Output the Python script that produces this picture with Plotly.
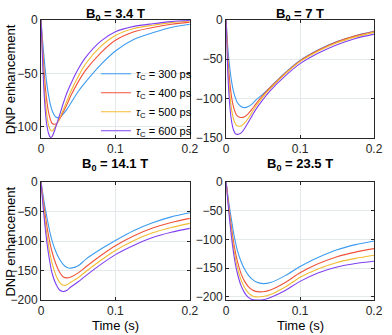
import plotly.graph_objects as go
from plotly.subplots import make_subplots

# time axis (s)
t_s = [0, 0.0025, 0.005, 0.0075, 0.01, 0.0125, 0.015, 0.02, 0.025, 0.03,
       0.035, 0.04, 0.05, 0.06, 0.08, 0.1, 0.125, 0.15, 0.175, 0.2]

tau_labels = ["300 ps", "400 ps", "500 ps", "600 ps"]
b0_labels = ["3.4 T", "7 T", "14.1 T", "23.5 T"]

# B0 = 3.4 T
e34_300 = [0, -22, -42, -58, -70, -79, -85, -91, -91.5, -88, -83.5, -78, -67, -58, -42, -29, -18, -12, -7, -4]
e34_400 = [0, -30, -56, -74, -86, -93, -97, -97.5, -93, -86, -79, -71, -58, -47, -31, -19, -11, -7, -4, -2]
e34_500 = [0, -38, -68, -87, -98, -103, -104, -99, -92, -84, -75.5, -67, -53, -41, -25, -14.5, -8, -5, -2.5, -1]
e34_600 = [0, -45, -78, -97, -106, -110, -109, -100, -89, -78, -68, -60, -46, -35, -20, -11, -6, -3.5, -1.5, -0.5]

# B0 = 7 T
e7_300 = [0, -38, -62, -79, -91, -99, -105, -110, -111.5, -110, -107, -102, -94, -85, -67, -51.5, -38, -27.5, -20, -14.5]
e7_400 = [0, -50, -80, -99, -111, -118, -122, -124, -123, -119, -113.5, -107, -95.5, -85.5, -67.5, -52, -38.3, -27.8, -20.2, -14.7]
e7_500 = [0, -60, -95, -115, -126, -132, -134.5, -135, -131, -125, -117.5, -110, -97.5, -87, -68.5, -53, -39.5, -29, -21.5, -15.7]
e7_600 = [0, -72, -110, -130, -140, -144.5, -145.5, -144, -138, -130, -122, -114, -101, -89.5, -71, -55.5, -42, -31.5, -23.5, -17.9]

# B0 = 14.1 T
e141_300 = [0, -20, -40, -57, -73, -88, -100, -118, -131, -140, -145, -146, -142, -131, -114, -99, -82, -69, -59, -52]
e141_400 = [0, -26, -50, -71, -90, -106, -119, -139, -153, -161, -162.5, -161, -154, -144, -125, -108, -91, -78, -68.5, -61.5]
e141_500 = [0, -31, -60, -85, -106, -124, -138, -158, -170, -175, -174, -170, -162, -152, -133, -116, -99, -86, -77, -70]
e141_600 = [0, -37, -70, -98, -121, -140, -155, -173, -183, -185.5, -183.5, -178, -169, -159, -140, -123, -107, -94, -85, -78.5]

# B0 = 23.5 T
e235_300 = [0, -25, -48, -68, -88, -104, -118, -138, -152, -162, -169, -173.5, -177, -175, -163, -147, -131, -118, -109, -102.5]
e235_400 = [0, -30, -57, -82, -104, -122, -137, -159, -173, -182, -187.5, -190.5, -191, -188, -175, -158, -142, -130, -122, -116]
e235_500 = [0, -33, -63, -90, -113, -132, -148, -170, -184, -193, -198, -200, -199.5, -196, -183, -166, -151, -140, -133, -127.5]
e235_600 = [0, -37, -70, -99, -123, -143, -158, -180, -193, -201, -204.5, -205.5, -205, -201, -189, -173, -158, -148, -142, -138]

panels = [
    [e34_300, e34_400, e34_500, e34_600],
    [e7_300, e7_400, e7_500, e7_600],
    [e141_300, e141_400, e141_500, e141_600],
    [e235_300, e235_400, e235_500, e235_600],
]
y_ranges = [[-110.5, 0], [-150, 0], [-200, 0], [-205.5, 0]]
y_ticks = [[-100, -50, 0], [-150, -100, -50, 0],
           [-200, -150, -100, -50, 0], [-200, -150, -100, -50, 0]]

colors = ["#3d9cf0", "#f0533a", "#f2bb32", "#8040f0"]
FONT = "Liberation Sans, Arial, sans-serif"

fig = make_subplots(rows=2, cols=2)

for p, series in enumerate(panels):
    row, col = p // 2 + 1, p % 2 + 1
    for k, vals in enumerate(series):
        fig.add_trace(
            go.Scatter(
                x=t_s, y=vals, mode="lines",
                line=dict(color=colors[k], width=1.1, shape="spline", smoothing=0.8),
                name="<i>τ</i><sub>C</sub> = " + tau_labels[k],
                showlegend=(p == 0),
            ),
            row=row, col=col,
        )

x_domains = [[0, 0.447], [0.556, 1]]
y_domains = [[0.579, 1], [0, 0.421]]

for p in range(4):
    r, c = p // 2, p % 2
    fig.update_xaxes(
        domain=x_domains[c], range=[0, 0.2], tickvals=[0, 0.1, 0.2],
        ticktext=["0", "0.1", "0.2"],
        ticks="inside", ticklen=3, tickcolor="#262626",
        showline=True, linecolor="#262626", linewidth=1, mirror="ticks",
        showgrid=True, gridcolor="#e4e9ec", gridwidth=1, zeroline=False,
        tickfont=dict(size=12, color="#262626", family=FONT),
        row=r + 1, col=c + 1,
    )
    fig.update_yaxes(
        domain=y_domains[r], range=y_ranges[p], tickvals=y_ticks[p],
        ticks="inside", ticklen=3, tickcolor="#262626",
        showline=True, linecolor="#262626", linewidth=1, mirror="ticks",
        showgrid=True, gridcolor="#e4e9ec", gridwidth=1, zeroline=False,
        tickfont=dict(size=12, color="#262626", family=FONT),
        row=r + 1, col=c + 1,
    )

annotations = []
title_pos = [(0.2235, 1.0, -5), (0.778, 1.0, -5), (0.2235, 0.421, 7), (0.778, 0.421, 7)]
for p, (xp, yp, ys) in enumerate(title_pos):
    annotations.append(dict(
        text="<b>B<sub>0</sub> = " + b0_labels[p] + "</b>",
        x=xp, y=yp, xref="paper", yref="paper", xanchor="center", yanchor="bottom",
        yshift=ys, showarrow=False, font=dict(size=13, color="black", family=FONT),
    ))
for yp in [0.79, 0.21]:
    annotations.append(dict(
        text="DNP enhancement", textangle=-90,
        x=-0.092, y=yp, xref="paper", yref="paper", xanchor="center", yanchor="middle",
        showarrow=False, font=dict(size=13, color="black", family=FONT),
    ))
for xp in [0.2235, 0.778]:
    annotations.append(dict(
        text="Time (s)", x=xp, y=-0.09, xref="paper", yref="paper",
        xanchor="center", yanchor="middle",
        showarrow=False, font=dict(size=13, color="black", family=FONT),
    ))

fig.update_layout(
    width=392, height=335,
    margin=dict(l=41, r=9, t=20, b=35),
    paper_bgcolor="white", plot_bgcolor="white",
    font=dict(family=FONT, color="#262626"),
    annotations=annotations,
    legend=dict(
        x=0.165, y=0.86, xanchor="left", yanchor="top",
        bgcolor="rgba(255,255,255,0)", borderwidth=0,
        font=dict(size=11, color="black", family=FONT),
        itemwidth=30, tracegroupgap=0,
    ),
)

# drop the browser's default page margin so the figure sits at the top-left corner
fig.write_html("out.html", config={"displayModeBar": False},
               post_script="document.body.style.margin='0px';")
